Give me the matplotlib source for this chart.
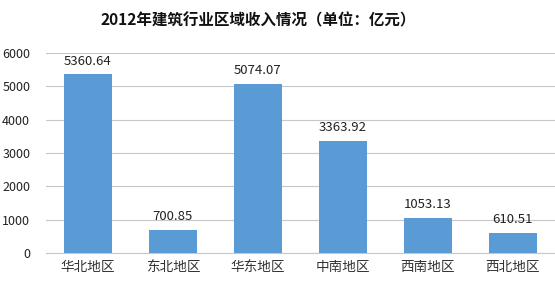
import matplotlib
matplotlib.use('Agg')
import matplotlib.pyplot as plt
import numpy as np

plt.rcParams['font.family'] = ['Noto Sans CJK SC', 'DejaVu Sans']

regions = ['华北地区', '东北地区', '华东地区', '中南地区', '西南地区', '西北地区']
income = [5360.64, 700.85, 5074.07, 3363.92, 1053.13, 610.51]

fig = plt.figure(figsize=(5.55, 2.96), dpi=100)
ax = fig.add_axes([0.082, 0.145, 0.918, 0.676])

x = np.arange(len(regions))
ax.bar(x, income, width=0.565, color='#5B9BD5', zorder=3)
for xi, v in zip(x, income):
    ax.text(xi, v + 200, f'{v:.2f}', ha='center', va='bottom', fontsize=9.5, color='#222222')

ax.set_xlim(-0.5, len(regions) - 0.5)
ax.set_ylim(0, 6000)
ax.set_yticks(np.arange(0, 6001, 1000))
ax.set_xticks(x)
ax.set_xticklabels(regions, fontsize=9.8, color='#333333')
ax.tick_params(axis='y', labelsize=9, colors='#222222', length=0, pad=11)
ax.tick_params(axis='x', length=0, pad=5)
ax.grid(axis='y', color='#c8c8c8', linewidth=0.8, zorder=0)
for s in ['top', 'right', 'left']:
    ax.spines[s].set_visible(False)
ax.spines['bottom'].set_color('#c8c8c8')

fig.text(0.466, 0.93, '2012年建筑行业区域收入情况（单位：亿元）', ha='center', va='center',
         fontsize=11.2, fontweight='bold', color='#111111')

fig.savefig('out.png', dpi=100, facecolor='white')
